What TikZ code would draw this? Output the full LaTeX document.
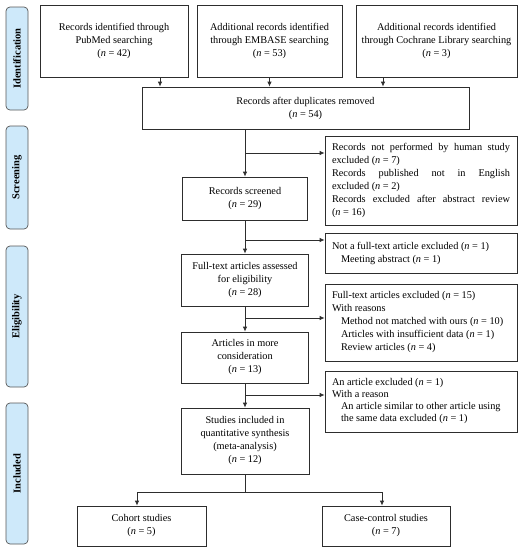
\documentclass[tikz,border=0pt]{standalone}
\usepackage{fontspec}
\setmainfont{Liberation Serif}
\usetikzlibrary{arrows.meta,calc}
\definecolor{sidefill}{RGB}{206,233,250}
\definecolor{linec}{RGB}{45,45,45}
\tikzset{
  box/.style={draw=linec, line width=0.8pt, inner sep=2pt, align=center,
    font=\fontsize{10.3}{13}\selectfont},
  excl/.style={draw=linec, line width=0.8pt, inner xsep=7pt, inner ysep=2pt,
    text width=178pt, align=justify, minimum width=192pt,
    font=\fontsize{10.3}{13}\selectfont},
  side/.style={draw=linec!80, line width=0.7pt, fill=sidefill, rounded corners=4pt,
    minimum width=22pt, inner sep=0pt, font=\fontsize{10.5}{12}\selectfont\bfseries},
  arr/.style={draw=linec, line width=0.8pt, -{Latex[length=5pt,width=4.5pt]}},
  ln/.style={draw=linec, line width=0.8pt},
}
\newcommand{\nn}{\textit{n}}
\begin{document}
\begin{tikzpicture}[x=1pt,y=-1pt]
\useasboundingbox (0,0) rectangle (528,550);
% side labels
\node[side, minimum height=103pt] (sid) at (17,58.5) {\rotatebox{90}{Identification}};
\node[side, minimum height=103pt] (ssc) at (17,177.5) {\rotatebox{90}{Screening}};
\node[side, minimum height=141pt] (sel) at (17,316.5) {\rotatebox{90}{Eligibility}};
\node[side, minimum height=141pt] (sin) at (17,473.5) {\rotatebox{90}{Included}};
% top boxes
\node[box, minimum width=148pt, minimum height=72pt] (b1) at (114,41)
  {Records identified through\\PubMed searching\\(\nn{} = 42)};
\node[box, minimum width=145pt, minimum height=72pt] (b2) at (269.5,41)
  {Additional records identified\\through EMBASE searching\\(\nn{} = 53)};
\node[box, minimum width=161pt, minimum height=72pt] (b3) at (436.5,41)
  {Additional records identified\\through Cochrane Library searching\\(\nn{} = 3)};
\node[box, minimum width=327pt, minimum height=42pt] (dup) at (305.5,108)
  {Records after duplicates removed\\(\nn{} = 54)};
% main column
\node[box, minimum width=125pt, minimum height=43pt] (scr) at (245,198.5)
  {Records screened\\(\nn{} = 29)};
\node[box, minimum width=127pt, minimum height=52pt] (ft) at (245,280)
  {Full-text articles assessed\\for eligibility\\(\nn{} = 28)};
\node[box, minimum width=127pt, minimum height=51pt] (amc) at (245,357.5)
  {Articles in more\\consideration\\(\nn{} = 13)};
\node[box, minimum width=128pt, minimum height=66pt] (si) at (245,441)
  {Studies included in\\quantitative synthesis\\(meta-analysis)\\(\nn{} = 12)};
\node[box, minimum width=129pt, minimum height=40pt] (co) at (141.5,526)
  {Cohort studies\\(\nn{} = 5)};
\node[box, minimum width=128pt, minimum height=40pt] (cc) at (386,526)
  {Case-control studies\\(\nn{} = 7)};
% exclusion boxes
\node[excl, minimum height=89pt] (e1) at (421,180.5)
  {Records not performed by human study\linebreak excluded (\nn{} = 7)\par
   Records published not in English\linebreak excluded (\nn{} = 2)\par
   Records excluded after abstract review\linebreak (\nn{} = 16)};
\node[excl, minimum height=40pt] (e2) at (421,253)
  {Not a full-text article excluded (\nn{} = 1)\par
   \hspace*{9pt}Meeting abstract (\nn{} = 1)};
\node[excl, minimum height=77pt] (e3) at (421,322.5)
  {Full-text articles excluded (\nn{} = 15)\par
   With reasons\par
   \hspace*{9pt}Method not matched with ours (\nn{} = 10)\par
   \hspace*{9pt}Articles with insufficient data (\nn{} = 1)\par
   \hspace*{9pt}Review articles (\nn{} = 4)};
\node[excl, minimum height=61pt, font=\fontsize{10.3}{12}\selectfont] (e4) at (421,401.5)
  {An article excluded (\nn{} = 1)\par
   With a reason\par
   {\leftskip=9pt An article similar to other article using\newline the same data excluded (\nn{} = 1)\par}};
% junction coordinates
\coordinate (j1) at (245,153);
\coordinate (j2) at (245,240);
\coordinate (j3) at (245,318);
\coordinate (j4) at (245,395);
\coordinate (s) at (245,492);
% connectors
\draw[arr] ([xshift=46pt]b1.south) -- ([xshift=46pt]b1.south |- dup.north);
\draw[arr] (b2.south) -- (b2.south |- dup.north);
\draw[arr] ([xshift=-53.5pt]b3.south) -- ([xshift=-53.5pt]b3.south |- dup.north);
\draw[arr] (dup.south -| scr.north) -- (scr.north);
\draw[arr] (scr.south) -- (ft.north);
\draw[arr] (ft.south) -- (amc.north);
\draw[arr] (amc.south) -- (si.north);
\draw[arr] (j1) -- (j1 -| e1.west);
\draw[arr] (j2) -- (j2 -| e2.west);
\draw[arr] (j3) -- (j3 -| e3.west);
\draw[arr] (j4) -- (j4 -| e4.west);
\draw[ln] (si.south) -- (s);
\draw[arr] (s) -| ([xshift=-4.5pt]co.north);
\draw[arr] (s) -| ([xshift=-4pt]cc.north);
\end{tikzpicture}
\end{document}
